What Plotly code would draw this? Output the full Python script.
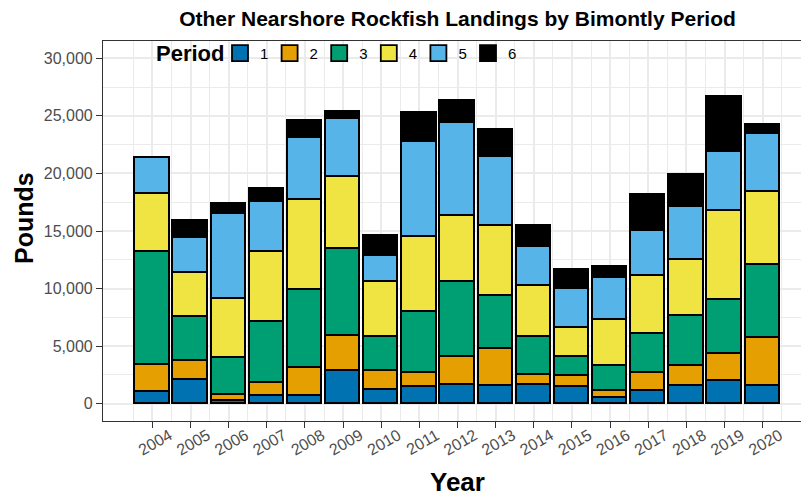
import plotly.graph_objects as go

years = list(range(2004, 2021))
periods = ["1", "2", "3", "4", "5", "6"]

# pounds landed per bimonthly period
p1 = [980, 2080, 200, 690, 640, 2810, 1160, 1450, 1650, 1560, 1650, 1450, 490, 1070, 1500, 1940, 1560]
p2 = [2350, 1590, 580, 1100, 2430, 3100, 1650, 1210, 2400, 3180, 870, 980, 580, 1590, 1790, 2400, 4140]
p3 = [9840, 3820, 3180, 5270, 6770, 7520, 2980, 5300, 6480, 4630, 3270, 1590, 2230, 3410, 4340, 4630, 6370]
p4 = [5060, 3850, 5120, 6160, 7810, 6250, 4750, 6510, 5790, 6080, 4400, 2550, 3990, 5040, 4860, 7730, 6310]
p5 = [3100, 3040, 7410, 4340, 5410, 5040, 2260, 8300, 8040, 5960, 3420, 3390, 3620, 3850, 4630, 5120, 5040]
p6 = [0, 1530, 870, 1100, 1510, 580, 1740, 2460, 1940, 2370, 1790, 1680, 950, 3130, 2750, 4860, 750]

colors = ["#0072B2", "#E69F00", "#009E73", "#F0E442", "#56B4E9", "#000000"]

fig = go.Figure()
for name, vals, col in zip(periods, [p1, p2, p3, p4, p5, p6], colors):
    fig.add_trace(go.Bar(
        x=years, y=vals, name=name, showlegend=False,
        marker=dict(color=col, line=dict(color="black", width=1.9)),
        width=0.9,
    ))
# legend keys (bigger squares than the default bar swatch)
for name, col in zip(periods, colors):
    fig.add_trace(go.Scatter(
        x=[None], y=[None], mode="markers", name=name,
        marker=dict(symbol="square", size=16, color=col, line=dict(color="black", width=1.8)),
    ))

# the page body has an 8px margin, so the figure is drawn a bit smaller
W, H = 801, 488
ml, mt, mb = 95, 33, 75
pw, ph = W - ml, H - mt - mb

def px(x):  # screen x -> paper x
    return (x - 8 - ml) / pw

def py(y):  # screen y -> paper y
    return (H - mb - (y - 8)) / ph

grid = "#EBEBEB"
fig.update_layout(
    barmode="stack",
    width=W, height=H,
    margin=dict(l=ml, r=0, t=mt, b=mb),
    paper_bgcolor="white", plot_bgcolor="white",
    font=dict(family="Liberation Sans, Arial", color="#4D4D4D"),
    title=dict(
        text="<b>Other Nearshore Rockfish Landings by Bimontly Period</b>",
        x=(457.5 - 8) / W, xanchor="center", y=1 - 11 / H, yanchor="middle",
        font=dict(size=21, color="black"),
    ),
    legend=dict(
        orientation="h", x=px(220), y=py(53.3), xanchor="left", yanchor="middle",
        font=dict(size=15, color="black"),
        bgcolor="rgba(0,0,0,0)", traceorder="normal",
        entrywidth=4.6, itemwidth=30,
    ),
    showlegend=True,
    bargap=0,
    annotations=[
        dict(text="<b>Period</b>", xref="paper", yref="paper", x=px(154), y=py(53.3),
             xanchor="left", yanchor="middle", showarrow=False,
             font=dict(size=22, color="black")),
        dict(text="<b>Pounds</b>", xref="paper", yref="paper", x=px(24), y=py(218),
             xanchor="center", yanchor="middle", textangle=-90, showarrow=False,
             font=dict(size=25, color="black")),
        dict(text="<b>Year</b>", xref="paper", yref="paper", x=px(457), y=py(482),
             xanchor="center", yanchor="middle", showarrow=False,
             font=dict(size=26, color="black")),
    ],
)

fig.update_xaxes(
    range=[2002.705, 2021.214], automargin=False,
    tickvals=years, ticktext=[str(y) for y in years],
    tickangle=-30, tickfont=dict(size=16, color="#4D4D4D"),
    ticklabelshift=17, ticklabelstandoff=-8,
    ticks="outside", ticklen=6, tickwidth=1.2, tickcolor="#333333",
    showgrid=True, gridcolor=grid, gridwidth=1.5,
    minor=dict(tick0=2003.5, dtick=1, showgrid=True, gridcolor=grid, gridwidth=0.7),
    showline=True, linecolor="#333333", linewidth=1.2, mirror=True,
    zeroline=False,
)
fig.update_yaxes(
    range=[-1500, 31500], automargin=False,
    tickvals=[0, 5000, 10000, 15000, 20000, 25000, 30000],
    tickformat=",", tickfont=dict(size=16, color="#4D4D4D"),
    ticks="outside", ticklen=6, tickwidth=1.2, tickcolor="#333333",
    showgrid=True, gridcolor=grid, gridwidth=1.5,
    minor=dict(tick0=2500, dtick=5000, showgrid=True, gridcolor=grid, gridwidth=0.7),
    showline=True, linecolor="#333333", linewidth=1.2, mirror=False,
    zeroline=False,
)

fig.write_html("out.html")
